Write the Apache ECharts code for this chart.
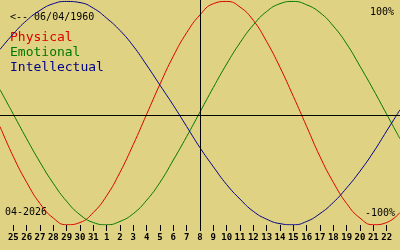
<!DOCTYPE html>
<html><head><meta charset="utf-8">
<script src="https://cdn.jsdelivr.net/npm/echarts@6/dist/echarts.min.js"></script>
<style>html,body{margin:0;padding:0;background:#e0d283;}#c{width:400px;height:250px;}</style>
</head><body><div id="c"></div>
<script>
// day labels: 24 Mar .. 23 Apr 2026 (centre = 8 Apr)
const days = ['24','25','26','27','28','29','30','31','1','2','3','4','5','6','7','8','9','10','11','12','13','14','15','16','17','18','19','20','21','22','23'];
const physical = [-0.12,-0.39,-0.62,-0.81,-0.94,-1.00,-0.98,-0.89,-0.74,-0.53,-0.28,-0.01,0.26,0.51,0.72,0.88,0.98,1.00,0.95,0.83,0.64,0.41,0.15,-0.12,-0.39,-0.62,-0.81,-0.94,-1.00,-0.98,-0.89];
const emotional = [0.21,-0.01,-0.23,-0.44,-0.63,-0.79,-0.91,-0.98,-1.00,-0.97,-0.90,-0.78,-0.62,-0.42,-0.21,0.01,0.23,0.44,0.63,0.79,0.91,0.98,1.00,0.97,0.90,0.78,0.62,0.42,0.21,-0.01,-0.23];
const intellectual = [0.57,0.71,0.83,0.92,0.98,1.00,0.99,0.94,0.85,0.74,0.60,0.43,0.25,0.07,-0.12,-0.31,-0.48,-0.64,-0.77,-0.88,-0.95,-0.99,-1.00,-0.97,-0.90,-0.80,-0.67,-0.52,-0.35,-0.16,0.03];
const seriesNames = ['Physical','Emotional','Intellectual'];
const centerDay = '8';
const birthLabel = '<-- 06/04/1960';
const monthLabel = '04-2026';
const topLabel = '100%';
const bottomLabel = '-100%';

const colors = ['#dc0000','#007800','#000088'];
const mono = '"DejaVu Sans Mono", monospace';
const chart = echarts.init(document.getElementById('c'), null, {renderer:'canvas'});
const showIdx = (i) => i > 0 && i < days.length - 1;
chart.setOption({
  animation:false,
  backgroundColor:'#e0d283',
  grid:{left:0,right:0,top:0,bottom:25},
  xAxis:{type:'category',data:days,boundaryGap:false,position:'bottom',
    axisLine:{show:false,onZero:false},
    axisTick:{show:true,length:6,interval:showIdx,lineStyle:{color:'#000',width:1}},
    axisLabel:{interval:showIdx,margin:8,color:'#000',fontFamily:mono,fontWeight:'bold',fontSize:9},
    splitLine:{show:false}},
  yAxis:{type:'value',min:-1.002,max:1.013,show:false,splitLine:{show:false}},
  graphic:[
    {type:'text',x:10,y:17,style:{text:birthLabel,fill:'#000',font:'10px '+mono,align:'left',verticalAlign:'middle'}},
    {type:'text',x:10,y:37.5,style:{text:seriesNames[0],fill:colors[0],font:'13px '+mono,align:'left',verticalAlign:'middle'}},
    {type:'text',x:10,y:53,style:{text:seriesNames[1],fill:colors[1],font:'13px '+mono,align:'left',verticalAlign:'middle'}},
    {type:'text',x:10,y:68,style:{text:seriesNames[2],fill:colors[2],font:'13px '+mono,align:'left',verticalAlign:'middle'}},
    {type:'text',x:394,y:12,style:{text:topLabel,fill:'#000',font:'10px '+mono,align:'right',verticalAlign:'middle'}},
    {type:'text',x:395,y:213,style:{text:bottomLabel,fill:'#000',font:'10px '+mono,align:'right',verticalAlign:'middle'}},
    {type:'text',x:5,y:212,style:{text:monthLabel,fill:'#000',font:'10px '+mono,align:'left',verticalAlign:'middle'}}
  ],
  series:[
    {name:seriesNames[0],type:'line',data:physical,smooth:true,symbol:'none',lineStyle:{color:colors[0],width:1},z:3,
      markLine:{silent:true,symbol:'none',label:{show:false},lineStyle:{color:'#000',width:1,type:'solid'},
        data:[{xAxis:centerDay},{yAxis:-0.02}]}},
    {name:seriesNames[1],type:'line',data:emotional,smooth:true,symbol:'none',lineStyle:{color:colors[1],width:1},z:3},
    {name:seriesNames[2],type:'line',data:intellectual,smooth:true,symbol:'none',lineStyle:{color:colors[2],width:1},z:3}
  ]
});
</script></body></html>
